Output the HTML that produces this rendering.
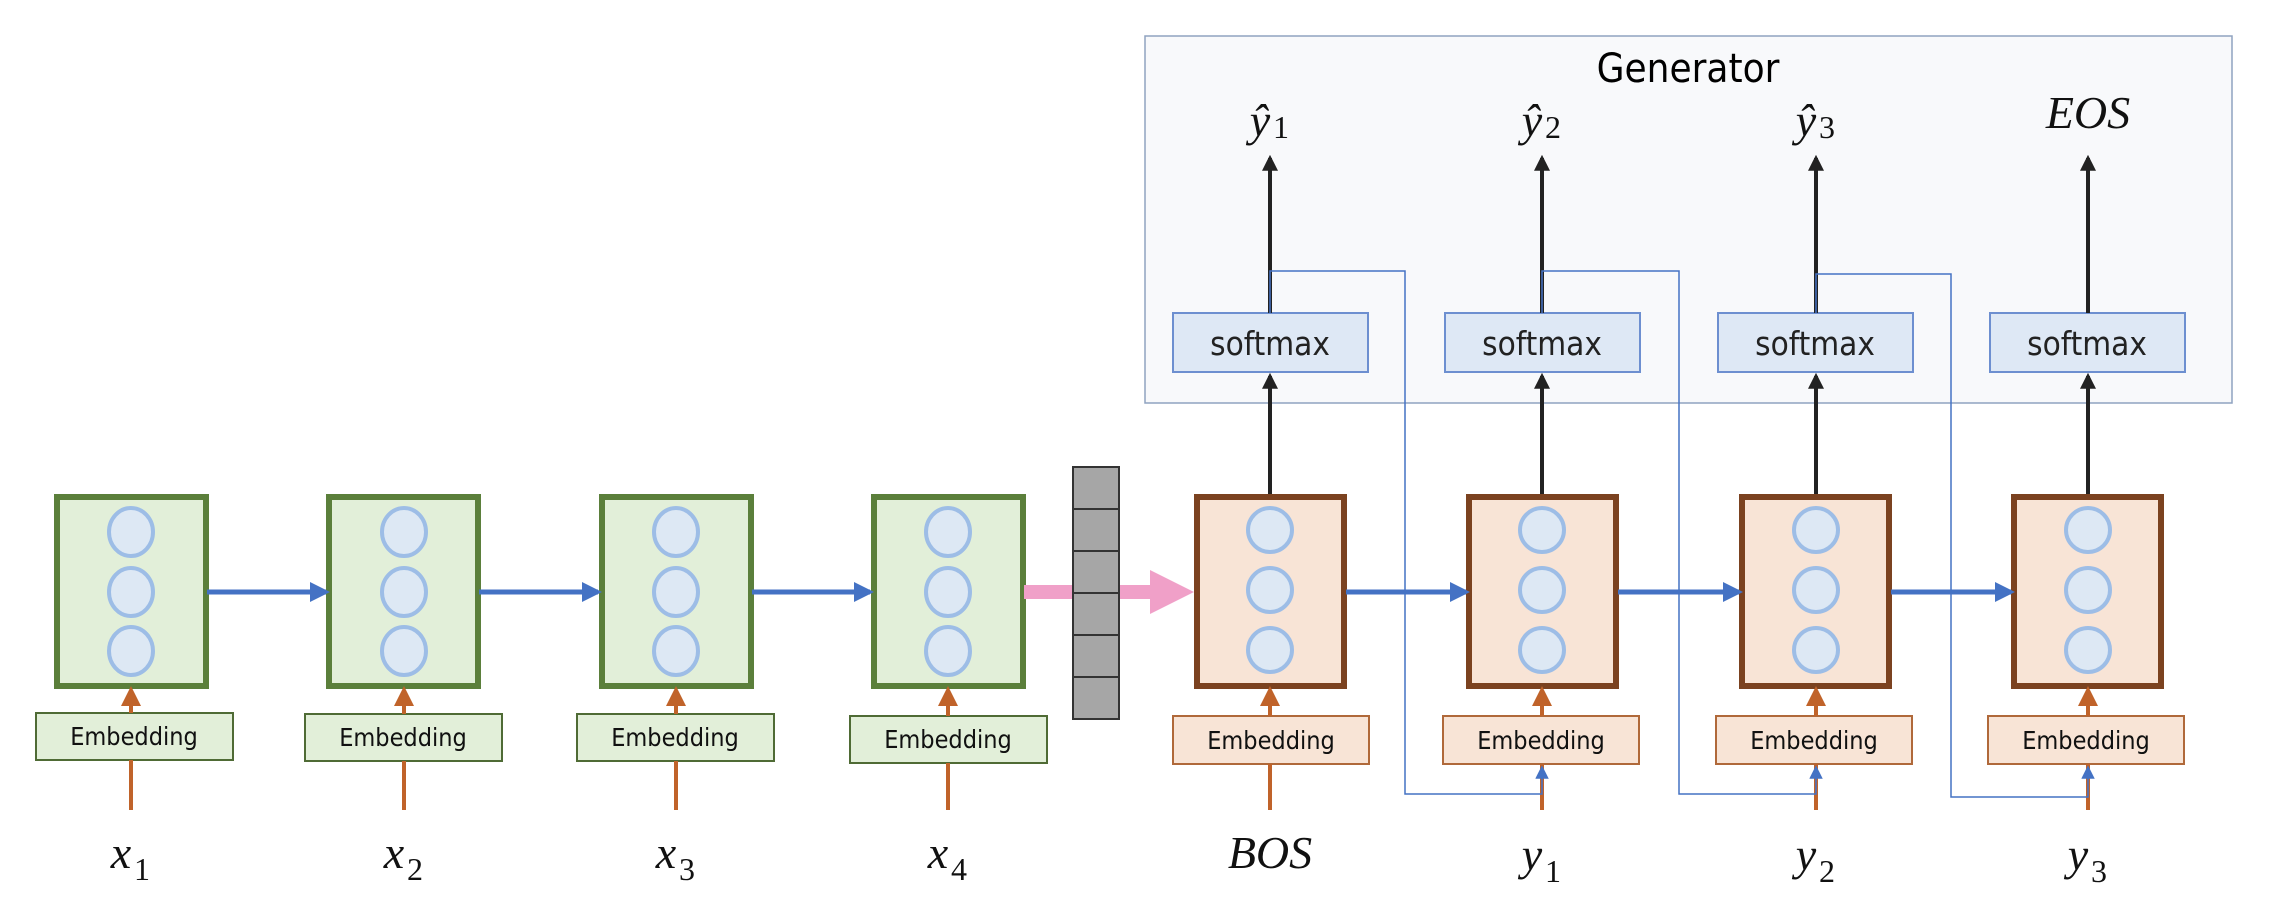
<!DOCTYPE html>
<html><head><meta charset="utf-8"><style>
html,body{margin:0;padding:0;background:#fff;}
svg{display:block;}
.emb{font-family:"DejaVu Sans Condensed","Liberation Sans Narrow","Liberation Sans",sans-serif;font-size:25px;fill:#111;}
.sm{font-family:"DejaVu Sans Condensed","DejaVu Sans","Liberation Sans",sans-serif;font-size:33px;fill:#222;}
.var{font-family:"Liberation Serif",serif;font-style:italic;font-size:46px;fill:#111;}
.sub{font-family:"Liberation Serif",serif;font-size:32px;fill:#111;}
</style></head><body>
<svg width="2270" height="902" viewBox="0 0 2270 902" xmlns="http://www.w3.org/2000/svg">
<defs>
<marker id="ab" viewBox="0 0 10 10" refX="8" refY="5" markerWidth="4" markerHeight="4" orient="auto"><path d="M0,0 L10,5 L0,10 z" fill="#4472c4"/></marker>
<marker id="ak" viewBox="0 0 10 10" refX="8" refY="5" markerWidth="4" markerHeight="4" orient="auto"><path d="M0,0 L10,5 L0,10 z" fill="#222"/></marker>
<marker id="ao" viewBox="0 0 10 10" refX="8" refY="5" markerWidth="5" markerHeight="5" orient="auto"><path d="M0,0 L10,5 L0,10 z" fill="#c0632a"/></marker>
<marker id="at" viewBox="0 0 10 10" refX="8" refY="5" markerWidth="9" markerHeight="9" orient="auto"><path d="M0,0 L10,5 L0,10 z" fill="#4472c4"/></marker>
</defs>
<rect x="1145" y="36" width="1087" height="367" fill="#f8f9fb" stroke="#8fa3c0" stroke-width="1.5"/>
<text x="1688" y="82" text-anchor="middle" font-family="DejaVu Sans Condensed,DejaVu Sans,Liberation Sans,sans-serif" font-size="40" fill="#000">Generator</text>

<g fill="#e2efd9" stroke="#5b7f3b" stroke-width="6">
<rect x="57" y="497" width="149" height="189"/>
<rect x="329" y="497" width="149" height="189"/>
<rect x="602" y="497" width="149" height="189"/>
<rect x="874" y="497" width="149" height="189"/>
</g>
<g fill="#dde8f4" stroke="#9dbde6" stroke-width="4">
<ellipse cx="131" cy="532" rx="22" ry="24"/><ellipse cx="131" cy="592" rx="22" ry="24"/><ellipse cx="131" cy="651" rx="22" ry="24"/>
<ellipse cx="404" cy="532" rx="22" ry="24"/><ellipse cx="404" cy="592" rx="22" ry="24"/><ellipse cx="404" cy="651" rx="22" ry="24"/>
<ellipse cx="676" cy="532" rx="22" ry="24"/><ellipse cx="676" cy="592" rx="22" ry="24"/><ellipse cx="676" cy="651" rx="22" ry="24"/>
<ellipse cx="948" cy="532" rx="22" ry="24"/><ellipse cx="948" cy="592" rx="22" ry="24"/><ellipse cx="948" cy="651" rx="22" ry="24"/>
</g>
<g fill="#e2efd9" stroke="#4f6b35" stroke-width="2">
<rect x="36" y="713" width="197" height="47"/>
<rect x="305" y="714" width="197" height="47"/>
<rect x="577" y="714" width="197" height="47"/>
<rect x="850" y="716" width="197" height="47"/>
</g>
<g class="emb" text-anchor="middle">
<text x="134" y="745">Embedding</text><text x="403" y="746">Embedding</text><text x="675" y="746">Embedding</text><text x="948" y="748">Embedding</text>
</g>
<g fill="#f8e4d6" stroke="#7b4220" stroke-width="6">
<rect x="1197" y="497" width="147" height="189"/>
<rect x="1469" y="497" width="147" height="189"/>
<rect x="1742" y="497" width="147" height="189"/>
<rect x="2014" y="497" width="147" height="189"/>
</g>
<g fill="#dde8f4" stroke="#9dbde6" stroke-width="4">
<circle cx="1270" cy="530" r="22"/><circle cx="1270" cy="590" r="22"/><circle cx="1270" cy="650" r="22"/>
<circle cx="1542" cy="530" r="22"/><circle cx="1542" cy="590" r="22"/><circle cx="1542" cy="650" r="22"/>
<circle cx="1816" cy="530" r="22"/><circle cx="1816" cy="590" r="22"/><circle cx="1816" cy="650" r="22"/>
<circle cx="2088" cy="530" r="22"/><circle cx="2088" cy="590" r="22"/><circle cx="2088" cy="650" r="22"/>
</g>
<g fill="#f8e4d6" stroke="#b0693a" stroke-width="2">
<rect x="1173" y="716" width="196" height="48"/>
<rect x="1443" y="716" width="196" height="48"/>
<rect x="1716" y="716" width="196" height="48"/>
<rect x="1988" y="716" width="196" height="48"/>
</g>
<g class="emb" text-anchor="middle">
<text x="1271" y="749">Embedding</text><text x="1541" y="749">Embedding</text><text x="1814" y="749">Embedding</text><text x="2086" y="749">Embedding</text>
</g>
<g fill="#dee8f5" stroke="#6d8fd0" stroke-width="2">
<rect x="1173" y="313" width="195" height="59"/>
<rect x="1445" y="313" width="195" height="59"/>
<rect x="1718" y="313" width="195" height="59"/>
<rect x="1990" y="313" width="195" height="59"/>
</g>
<g class="sm" text-anchor="middle">
<text x="1270" y="355">softmax</text><text x="1542" y="355">softmax</text><text x="1815" y="355">softmax</text><text x="2087" y="355">softmax</text>
</g>
<g stroke="#222" stroke-width="4" marker-end="url(#ak)">
<line x1="1270" y1="494" x2="1270" y2="376"/><line x1="1542" y1="494" x2="1542" y2="376"/><line x1="1816" y1="494" x2="1816" y2="376"/><line x1="2088" y1="494" x2="2088" y2="376"/>
<line x1="1270" y1="313" x2="1270" y2="158"/><line x1="1542" y1="313" x2="1542" y2="158"/><line x1="1816" y1="313" x2="1816" y2="158"/><line x1="2088" y1="313" x2="2088" y2="158"/>
</g>
<g stroke="#4472c4" stroke-width="5" marker-end="url(#ab)">
<line x1="207" y1="592" x2="326" y2="592"/><line x1="479" y1="592" x2="598" y2="592"/><line x1="752" y1="592" x2="870" y2="592"/>
<line x1="1346" y1="592" x2="1466" y2="592"/><line x1="1618" y1="592" x2="1739" y2="592"/><line x1="1891" y1="592" x2="2011" y2="592"/>
</g>
<g stroke="#c0632a" stroke-width="4">
<line x1="131" y1="810" x2="131" y2="760"/><line x1="404" y1="810" x2="404" y2="761"/><line x1="676" y1="810" x2="676" y2="761"/><line x1="948" y1="810" x2="948" y2="763"/>
<line x1="1270" y1="810" x2="1270" y2="764"/><line x1="1542" y1="810" x2="1542" y2="764"/><line x1="1816" y1="810" x2="1816" y2="764"/><line x1="2088" y1="810" x2="2088" y2="764"/>
</g>
<g stroke="#c0632a" stroke-width="4" marker-end="url(#ao)">
<line x1="131" y1="713" x2="131" y2="690"/><line x1="404" y1="714" x2="404" y2="690"/><line x1="676" y1="714" x2="676" y2="690"/><line x1="948" y1="716" x2="948" y2="690"/>
<line x1="1270" y1="716" x2="1270" y2="690"/><line x1="1542" y1="716" x2="1542" y2="690"/><line x1="1816" y1="716" x2="1816" y2="690"/><line x1="2088" y1="716" x2="2088" y2="690"/>
</g>
<rect x="1024" y="585" width="50" height="14" fill="#f0a0c8"/>
<g fill="#a6a6a6" stroke="#333" stroke-width="2">
<rect x="1073" y="467" width="46" height="42"/><rect x="1073" y="509" width="46" height="42"/><rect x="1073" y="551" width="46" height="42"/>
<rect x="1073" y="593" width="46" height="42"/><rect x="1073" y="635" width="46" height="42"/><rect x="1073" y="677" width="46" height="42"/>
</g>
<path d="M1120,585 L1150,585 L1150,570 L1194,592 L1150,614 L1150,599 L1120,599 z" fill="#f0a0c8"/>
<g fill="none" stroke="#4472c4" stroke-width="1.5" marker-end="url(#at)">
<polyline points="1270,313 1270,271 1405,271 1405,794 1542,794 1542,768"/>
<polyline points="1542,313 1542,271 1679,271 1679,794 1816,794 1816,768"/>
<polyline points="1816,313 1816,274 1951,274 1951,797 2088,797 2088,768"/>
</g>
<g class="var" text-anchor="middle">
<text x="121" y="868">x</text><text x="394" y="868">x</text><text x="666" y="868">x</text><text x="938" y="868">x</text>
<text x="1270" y="868">BOS</text>
<text x="1532" y="870">y</text><text x="1806" y="870">y</text><text x="2078" y="870">y</text>
<text x="1260" y="136">ŷ</text><text x="1532" y="136">ŷ</text><text x="1806" y="136">ŷ</text>
<text x="2088" y="128">EOS</text>
</g>
<g class="sub">
<text x="134" y="880">1</text><text x="407" y="880">2</text><text x="679" y="880">3</text><text x="951" y="880">4</text>
<text x="1545" y="882">1</text><text x="1819" y="882">2</text><text x="2091" y="882">3</text>
<text x="1273" y="138">1</text><text x="1545" y="138">2</text><text x="1819" y="138">3</text>
</g>
</svg>
</body></html>
